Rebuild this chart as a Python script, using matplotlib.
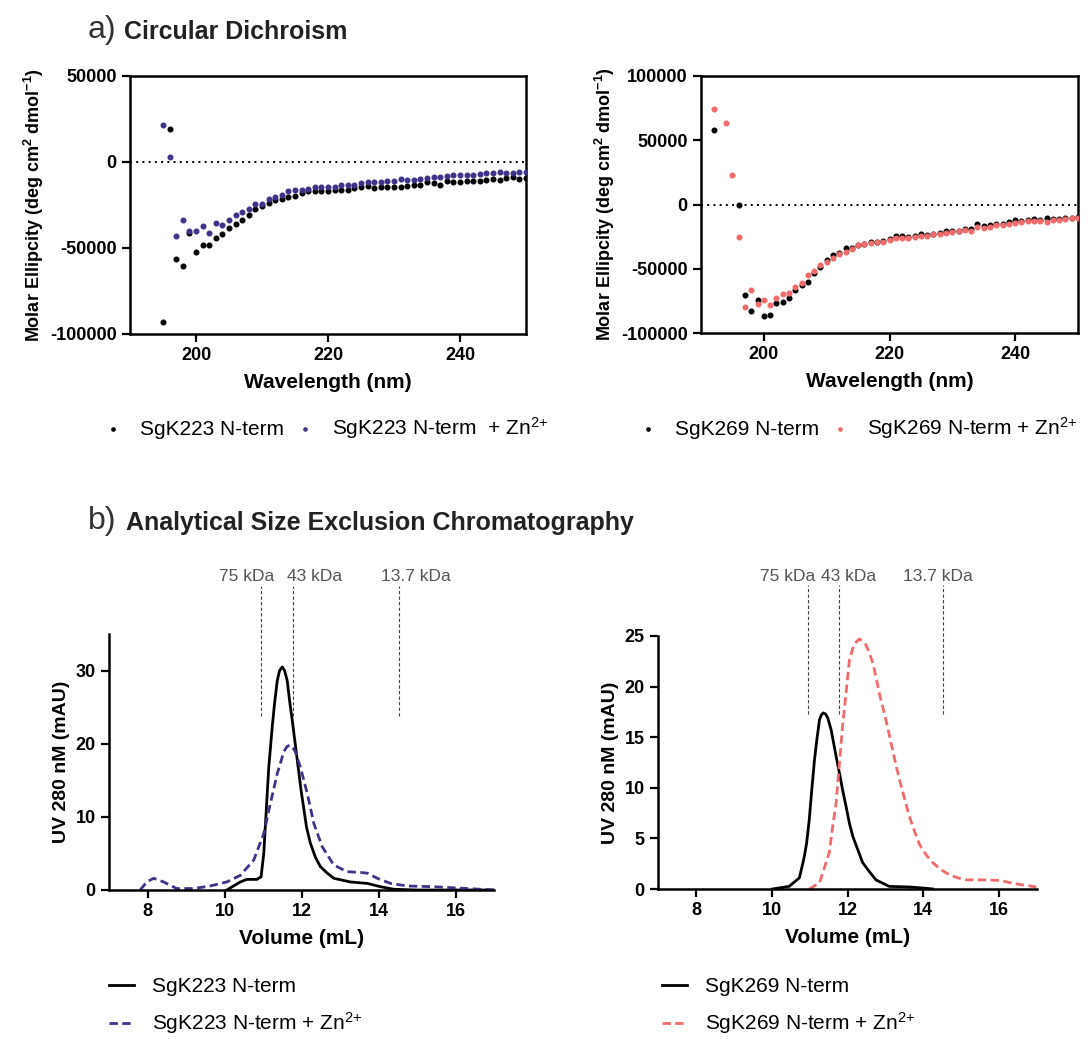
import numpy as np
import matplotlib.pyplot as plt

plt.rcParams['font.family'] = ['Liberation Sans', 'DejaVu Sans']
plt.rcParams['mathtext.default'] = 'regular'
plt.rcParams['axes.unicode_minus'] = False

# ---- Circular dichroism data (deg cm2 dmol-1) ----
wl_223 = list(range(195, 251))
cd_223 = [-92800, 19200, -56400, -60600, -41300, -52500, -48000, -48000, -44400, -41800,
          -38500, -36000, -33700, -30800, -27100, -25400, -24000, -22300, -21300, -20500,
          -20000, -18000, -17000, -17100, -17000, -16800, -16500, -16100, -16100, -15100,
          -14700, -14100, -15000, -14500, -14500, -14500, -14700, -13900, -13200, -13200,
          -11800, -12200, -13400, -11200, -11400, -11600, -10800, -11000, -11200, -10500,
          -9700, -10300, -9300, -8700, -9700, -9100]
cd_223_zn = [21500, 2900, -42800, -33900, -40100, -39900, -37000, -41300, -35600, -36600,
             -33500, -31000, -28900, -27500, -24600, -24200, -21300, -20100, -19000, -17000,
             -16500, -16500, -15700, -14300, -14700, -14300, -14300, -13600, -13200, -13400,
             -12200, -11800, -11400, -11800, -10800, -10800, -10100, -10300, -10300, -9900,
             -9100, -8500, -8900, -8300, -7800, -7800, -7600, -7600, -7200, -6600,
             -6600, -5800, -6200, -6200, -6000, -5800]

wl_269 = list(range(192, 251))
nan = float('nan')
cd_269 = [57900, nan, nan, nan, 0, -70600, -83100, -74000, -86700, -85700,
          -76400, -75800, -72500, -66700, -63000, -60300, -53000, -48600, -43400, -39500,
          -37500, -33500, -34000, -31700, -30500, -29500, -29000, -28500, -27000, -24700,
          -24700, -25500, -24400, -22600, -23500, -22800, -22000, -21000, -20500, -20300,
          -18700, -19000, -15300, -17000, -15800, -14800, -15300, -14000, -11900, -12500,
          -11800, -11500, -12000, -10600, -11500, -11300, -10800, -10200, -10000]
cd_269_zn = [74000, nan, 63100, 23100, -25200, -80000, -66200, -77100, -74000, -77900,
             -72700, -69600, -68600, -64100, -61000, -55100, -51700, -46700, -44700, -41300,
             -38200, -36900, -34300, -31900, -30400, -29600, -29300, -29100, -27500, -26200,
             -26000, -26200, -25400, -24200, -24700, -23100, -22900, -21800, -21600, -21000,
             -19500, -20300, -17400, -17900, -17700, -15800, -15800, -15300, -14500, -13500,
             -13200, -12700, -12700, -13500, -12200, -11900, -11400, -10600, -10600]

# ---- SEC traces (volume mL, UV mAU) ----
v_223 = [10.06, 10.25, 10.41, 10.58, 10.84, 10.95, 11.02, 11.1, 11.15, 11.24, 11.3, 11.37,
         11.43, 11.5, 11.56, 11.63, 11.69, 11.76, 11.87, 11.99, 12.13, 12.23, 12.36, 12.49,
         12.67, 12.84, 13.27, 13.71, 14.05, 14.4, 15.0, 17.0]
uv_223 = [0, 0.6, 1.1, 1.45, 1.45, 1.8, 5.0, 12.3, 16.8, 22.3, 25.5, 28.6,
          30.0, 30.5, 30.0, 28.6, 25.9, 23.2, 18.6, 13.6, 8.6, 6.4, 4.5, 3.2,
          2.3, 1.6, 1.1, 0.9, 0.45, 0.1, 0, 0]
v_223_zn = [7.81, 7.98, 8.16, 8.42, 8.76, 9.2, 9.63, 10.06, 10.41, 10.76, 11.02, 11.19, 11.37,
            11.54, 11.62, 11.69, 11.76, 11.84, 11.97, 12.05, 12.15, 12.32, 12.54, 12.84, 13.19,
            13.53, 13.71, 13.97, 14.31, 14.75, 15.44, 16.31, 17.0]
uv_223_zn = [0, 1.1, 1.6, 1.1, 0.2, 0.2, 0.55, 1.1, 2.0, 4.1, 7.7, 11.8, 15.9,
             18.9, 19.6, 19.8, 19.6, 18.9, 16.8, 15.2, 13.2, 9.1, 5.9, 3.4, 2.5,
             2.4, 2.3, 1.6, 0.9, 0.55, 0.45, 0.2, 0]

v_269 = [10.02, 10.46, 10.73, 10.8, 10.86, 10.92, 10.99, 11.05, 11.13, 11.19, 11.26, 11.31,
         11.36, 11.42, 11.48, 11.57, 11.7, 11.79, 11.87, 11.96, 12.05, 12.14, 12.27, 12.4,
         12.58, 12.75, 13.1, 13.63, 14.07, 14.25]
uv_269 = [0, 0.26, 1.1, 2.2, 3.2, 4.5, 6.8, 9.5, 12.8, 14.7, 16.7, 17.2,
          17.4, 17.3, 16.9, 15.7, 13.1, 11.4, 9.8, 8.2, 6.5, 5.2, 3.9, 2.6,
          1.7, 0.9, 0.26, 0.2, 0.07, 0]
v_269_zn = [10.99, 11.26, 11.52, 11.61, 11.7, 11.78, 11.87, 11.96, 12.05, 12.14, 12.23, 12.31,
            12.4, 12.49, 12.58, 12.67, 12.75, 12.84, 12.97, 13.11, 13.24, 13.37, 13.5, 13.63,
            13.77, 13.9, 14.07, 14.25, 14.47, 14.69, 14.91, 15.13, 15.57, 16.01, 16.45, 16.98]
uv_269_zn = [0, 0.6, 3.6, 6.2, 8.5, 12.1, 16.1, 19.3, 22.6, 23.8, 24.4, 24.7,
             24.5, 24.1, 23.3, 22.3, 21.0, 19.3, 17.4, 15.1, 12.9, 10.8, 9.0, 7.2,
             5.7, 4.4, 3.4, 2.6, 1.9, 1.4, 1.1, 0.9, 0.9, 0.85, 0.5, 0.2]

std_labels = ['75 kDa', '43 kDa', '13.7 kDa']
std_vol = [10.95, 11.77, 14.52]

BLUE = '#3d3389'
PINK = '#f26b6b'
W, H = 1088, 1039


def px_axes(fig, left, top, right, bottom):
    return fig.add_axes([left / W, 1 - bottom / H, (right - left) / W, (bottom - top) / H])


fig = plt.figure(figsize=(W / 100, H / 100), dpi=100)

tick_kw = dict(labelsize=13, width=1.6, length=6)


def style_cd(ax, ylim, yticks):
    ax.set_xlim(190, 250)
    ax.set_ylim(*ylim)
    ax.set_xticks([200, 220, 240])
    ax.set_yticks(yticks)
    for s in ax.spines.values():
        s.set_linewidth(1.8)
    ax.tick_params(**tick_kw)
    for lab in ax.get_xticklabels() + ax.get_yticklabels():
        lab.set_fontweight('bold')
    ax.axhline(0, color='k', ls=(0, (1, 2.2)), lw=1.4, zorder=1)
    ax.set_xlabel('Wavelength (nm)', fontsize=15, fontweight='bold', labelpad=6)
    ax.set_ylabel('Molar Ellipcity (deg cm$^2$ dmol$^{-1}$)', fontsize=13, fontweight='bold',
                  labelpad=3)


leg_kw = dict(frameon=False, fontsize=15)

# a) CD SgK223
ax1 = px_axes(fig, 130, 76, 526, 334)
ax1.scatter(wl_223, cd_223, s=11, color='k', label='SgK223 N-term', zorder=3)
ax1.scatter(wl_223, cd_223_zn, s=11, color=BLUE, label='SgK223 N-term  + Zn$^{2{+}}$', zorder=3)
style_cd(ax1, (-100000, 50000), [-100000, -50000, 0, 50000])
ax1.legend(loc='center', bbox_to_anchor=(326 / W, 1 - 428 / H), bbox_transform=fig.transFigure,
           ncol=2, handlelength=0.8, handletextpad=0.9, columnspacing=0.6, markerscale=0.7,
           **leg_kw)

# a) CD SgK269
ax2 = px_axes(fig, 701, 76, 1078, 333)
ax2.scatter(wl_269, cd_269, s=11, color='k', label='SgK269 N-term', zorder=3)
ax2.scatter(wl_269, cd_269_zn, s=11, color=PINK, label='SgK269 N-term + Zn$^{2{+}}$', zorder=3)
style_cd(ax2, (-100000, 100000), [-100000, -50000, 0, 50000, 100000])
ax2.legend(loc='center', bbox_to_anchor=(858 / W, 1 - 428 / H), bbox_transform=fig.transFigure,
           ncol=2, handlelength=0.8, handletextpad=0.9, columnspacing=0.6, markerscale=0.7,
           **leg_kw)


def style_sec(ax, ymax, yticks):
    ax.set_xlim(7, 17)
    ax.set_ylim(0, ymax)
    ax.set_xticks([8, 10, 12, 14, 16])
    ax.set_yticks(yticks)
    ax.spines['top'].set_visible(False)
    ax.spines['right'].set_visible(False)
    for s in ax.spines.values():
        s.set_linewidth(1.8)
    ax.tick_params(**tick_kw)
    for lab in ax.get_xticklabels() + ax.get_yticklabels():
        lab.set_fontweight('bold')
    ax.set_xlabel('Volume (mL)', fontsize=15, fontweight='bold', labelpad=6)
    ax.set_ylabel('UV 280 nM (mAU)', fontsize=14, fontweight='bold')


def standards(ax, y0, y1, ylab, label_x):
    for v, lab, lx in zip(std_vol, std_labels, label_x):
        ax.plot([v, v], [y0, y1], color='#444444', ls=(0, (3, 2)), lw=0.8, clip_on=False)
        ax.text(lx, ylab, lab, ha='center', va='center', fontsize=12.5, color='#555555',
                clip_on=False)


sec_leg = dict(handlelength=1.2, handletextpad=0.85, labelspacing=0.7, borderpad=0,
               borderaxespad=0, **leg_kw)

# b) SEC SgK223
ax3 = px_axes(fig, 109, 634, 494, 890)
ax3.plot(v_223, uv_223, color='k', lw=2.0, label='SgK223 N-term')
ax3.plot(v_223_zn, uv_223_zn, color=BLUE, lw=2.0, ls=(0, (3, 1.6)),
         label='SgK223 N-term + Zn$^{2{+}}$')
style_sec(ax3, 35, [0, 10, 20, 30])
standards(ax3, 23.8, 41.6, 42.9, [10.57, 12.33, 14.96])
ax3.legend(loc='upper left', bbox_to_anchor=(109 / W, 1 - 977 / H), bbox_transform=fig.transFigure,
           **sec_leg)

# b) SEC SgK269
ax4 = px_axes(fig, 658, 636, 1037, 889)
ax4.plot(v_269, uv_269, color='k', lw=2.0, label='SgK269 N-term')
ax4.plot(v_269_zn, uv_269_zn, color=PINK, lw=2.0, ls=(0, (3, 1.6)),
         label='SgK269 N-term + Zn$^{2{+}}$')
style_sec(ax4, 25, [0, 5, 10, 15, 20, 25])
standards(ax4, 17.3, 30.0, 30.9, [10.43, 12.03, 14.39])
ax4.legend(loc='upper left', bbox_to_anchor=(662 / W, 1 - 977 / H), bbox_transform=fig.transFigure,
           **sec_leg)

# section titles
fig.text(88 / W, 1 - 30 / H, 'a)', fontsize=23, color='#333333', va='center')
fig.text(124 / W, 1 - 32 / H, 'Circular Dichroism', fontsize=18, fontweight='bold',
         color='#222222', va='center')
fig.text(88 / W, 1 - 521 / H, 'b)', fontsize=23, color='#333333', va='center')
fig.text(126 / W, 1 - 523 / H, 'Analytical Size Exclusion Chromatography', fontsize=18,
         fontweight='bold', color='#222222', va='center')

fig.savefig('out.png', dpi=100)
